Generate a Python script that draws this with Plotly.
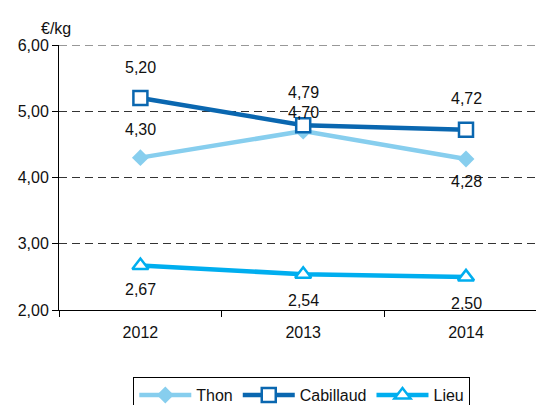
import plotly.graph_objects as go

years = ["2012", "2013", "2014"]
thon = [4.30, 4.70, 4.28]
cabillaud = [5.20, 4.79, 4.72]
lieu = [2.67, 2.54, 2.50]
y_ticks = [2, 3, 4, 5, 6]

series = [
    ("Thon", thon, "#87CEEE", dict(symbol="diamond", size=13, color="#87CEEE",
                                   line=dict(width=0)), [28, 19, -23]),
    ("Cabillaud", cabillaud, "#0A67B0", dict(symbol="square", size=14, color="white",
                                              line=dict(width=2.5, color="#0A67B0")), [31, 33, 31]),
    ("Lieu", lieu, "#00AEEF", dict(symbol="triangle-up", size=14, color="white",
                                    line=dict(width=2.5, color="#00AEEF")), [-24, -26, -27]),
]

fig = go.Figure()
annotations = []
for name, vals, color, marker, shifts in series:
    fig.add_trace(go.Scatter(x=years, y=vals, name=name, mode="lines+markers",
                             line=dict(color=color, width=4.5), marker=marker))
    for i, (yv, sh) in enumerate(zip(vals, shifts)):
        annotations.append(dict(x=i, y=yv, xref="x", yref="y",
                                text=f"{yv:.2f}".replace(".", ","),
                                showarrow=False, yshift=sh,
                                font=dict(size=16, color="#111")))

annotations.append(dict(x=0, y=1, xref="paper", yref="paper", xanchor="right", yanchor="bottom",
                        text="€/kg", showarrow=False, xshift=14, yshift=6,
                        font=dict(size=16, color="#111")))

fig.update_layout(
    width=536, height=405,
    margin=dict(l=59, r=0, t=45, b=95, autoexpand=False),
    paper_bgcolor="white", plot_bgcolor="white",
    font=dict(family="Liberation Sans, Arial, sans-serif", size=16, color="#111"),
    separators=",.",
    annotations=annotations,
    legend=dict(orientation="h", x=0.509, xanchor="center", y=-0.253, yanchor="top",
                bordercolor="black", borderwidth=1, bgcolor="white",
                font=dict(size=16), itemwidth=52, tracegroupgap=0),
    showlegend=True,
)
# top gridline (at the range edge, which plotly does not draw itself)
fig.add_shape(type="line", xref="paper", yref="y", x0=0, x1=1, y0=y_ticks[-1], y1=y_ticks[-1],
              line=dict(color="#333", width=1, dash="8px,5px"), layer="below")
fig.update_xaxes(type="category", range=[-0.5, 2.43], showline=True, linecolor="black",
                 linewidth=1, ticks="outside", tickson="boundaries", ticklen=6,
                 tickcolor="black", showgrid=False, ticklabelstandoff=8, automargin=False)
fig.update_yaxes(range=[2, 6], tickvals=y_ticks, tickformat=".2f", showline=True,
                 linecolor="black", linewidth=1, ticks="outside", ticklen=6,
                 tickcolor="black", showgrid=True, gridcolor="#333",
                 griddash="8px,5px", gridwidth=1, zeroline=False, automargin=False)

fig.write_html("out.html", config={"displayModeBar": False},
               post_script="document.body.style.margin='0';")
